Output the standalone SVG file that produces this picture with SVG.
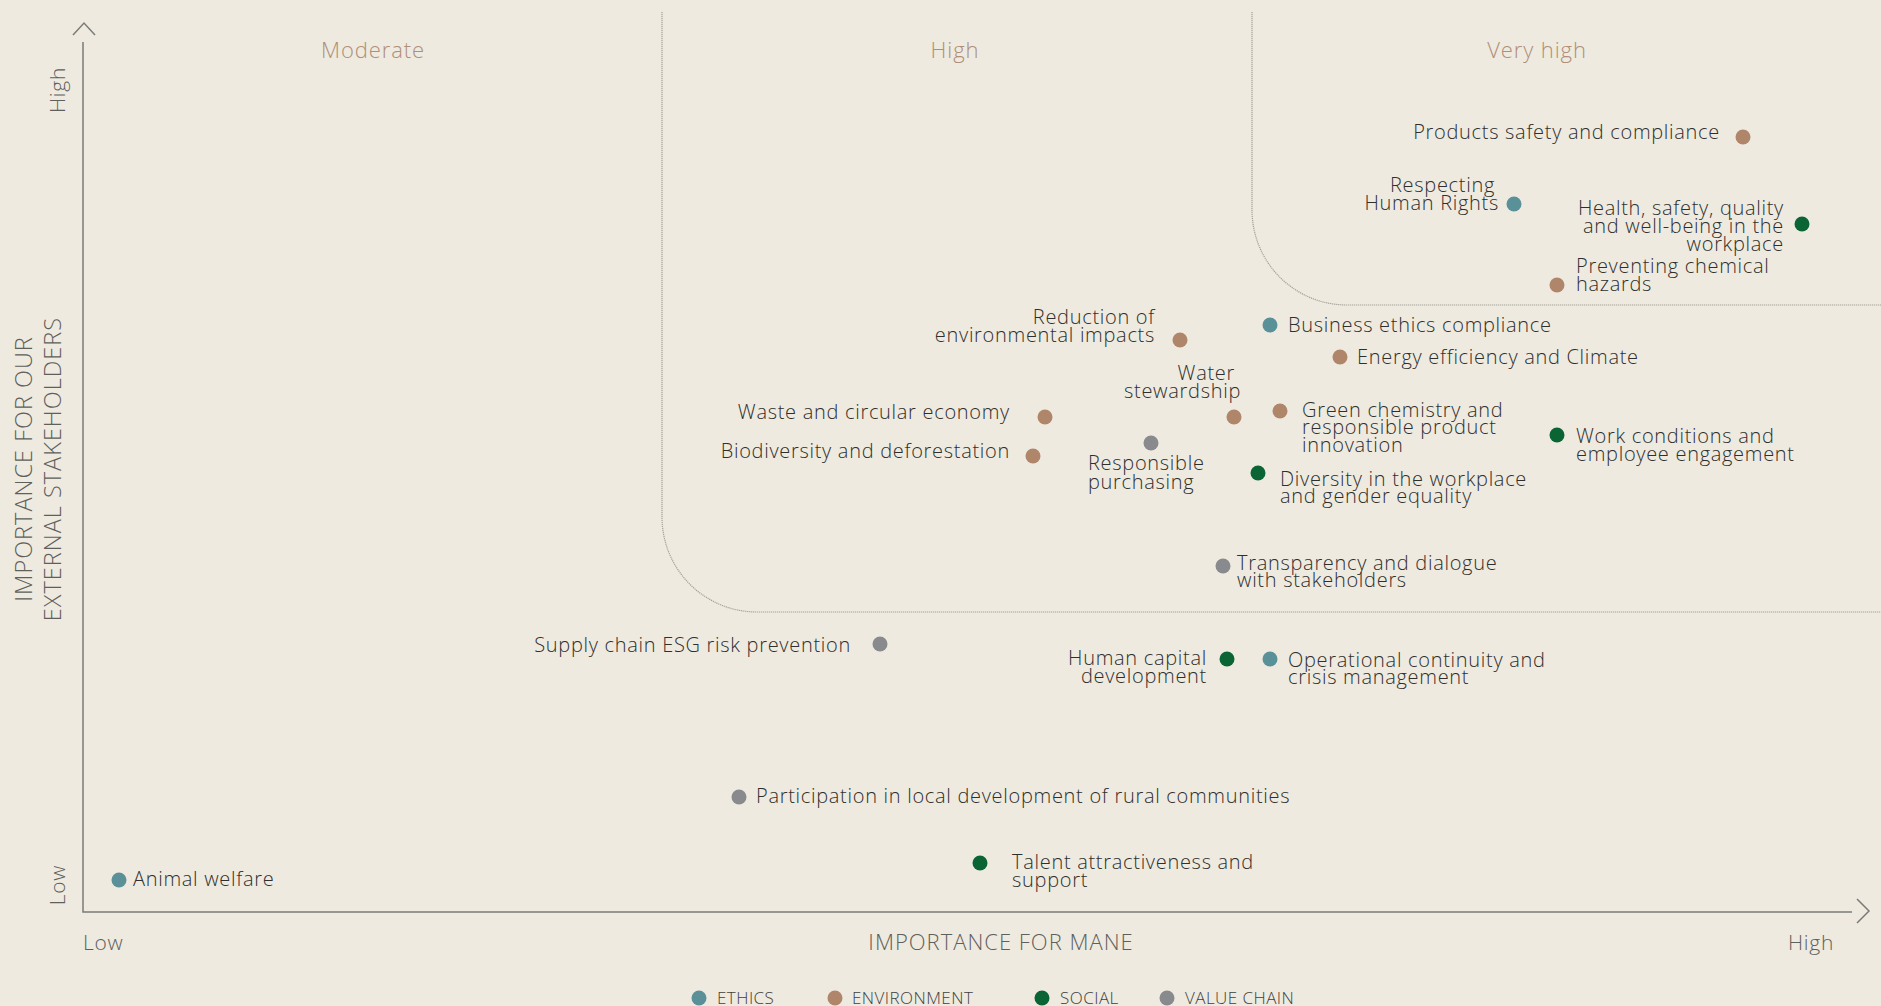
<svg xmlns="http://www.w3.org/2000/svg" width="1881" height="1006" viewBox="0 0 1881 1006">
<style>
  text { font-family: "Open Sans", "Noto Sans", "Liberation Sans", sans-serif; font-weight: 300; }
  .lbl { font-size: 20px; fill: #2f2f2d; letter-spacing: 0.7px; }
  .end { text-anchor: end; }
  .zone { font-size: 22px; fill: #b08e78; text-anchor: middle; letter-spacing: 0.9px; }
  .ax { font-size: 21px; fill: #5f5f5c; letter-spacing: 0.7px; }
  .axt { font-size: 22px; fill: #5f5f5c; letter-spacing: 1px; }
  .ayt { font-size: 23.5px; fill: #5f5f5c; letter-spacing: 1px; text-anchor: middle; }
  .leg { font-size: 17px; fill: #3f3f3d; letter-spacing: 0.45px; }
  .eth { fill: #5a9199; }
  .env { fill: #b0866b; }
  .soc { fill: #0a6434; }
  .val { fill: #898a8e; }
  .bound { fill: none; stroke: #a3a09a; stroke-width: 1.2; stroke-dasharray: 1.2 0.8; }
  .axis { fill: none; stroke: #7b7b77; stroke-width: 1.5; }
</style>
<rect width="1881" height="1006" fill="#eeeae0"/>

<g id="zones">
  <path class="bound" d="M662,12 V517 A95,95 0 0 0 757,612 H1881"/>
  <path class="bound" d="M1252,12 V210 A95,95 0 0 0 1347,305 H1881"/>
  <text class="zone" x="373" y="58">Moderate</text>
  <text class="zone" x="955" y="58">High</text>
  <text class="zone" x="1537" y="58">Very high</text>
</g>

<g id="axes">
  <path class="axis" d="M83,42 V912 H1852"/>
  <path class="axis" d="M73,35 L84,23 L95,35"/>
  <path class="axis" d="M1857,899 L1869,911 L1857,923"/>
  <text class="ax" x="83" y="950">Low</text>
  <text class="ax" x="1834" y="950" text-anchor="end">High</text>
  <text class="axt" x="1001" y="950" text-anchor="middle">IMPORTANCE FOR MANE</text>
  <text class="ax" transform="translate(65,90) rotate(-90)" text-anchor="middle">High</text>
  <text class="ax" transform="translate(65,885) rotate(-90)" text-anchor="middle">Low</text>
  <text class="ayt" transform="translate(46,469) rotate(-90)"><tspan x="0" y="-14">IMPORTANCE FOR OUR</tspan><tspan x="0" y="15">EXTERNAL STAKEHOLDERS</tspan></text>
</g>

<g id="connectors"></g>

<g id="n-products-safety">
  <circle class="env" cx="1743" cy="137" r="7.5"/>
  <text class="lbl end" x="1720" y="139">Products safety and compliance</text>
</g>
<g id="n-human-rights">
  <circle class="eth" cx="1514" cy="204" r="7.5"/>
  <text class="lbl end"><tspan x="1495" y="192">Respecting</tspan><tspan x="1499" y="210">Human Rights</tspan></text>
</g>
<g id="n-health-safety">
  <circle class="soc" cx="1802" cy="224" r="7.5"/>
  <text class="lbl end"><tspan x="1784" y="215">Health, safety, quality</tspan><tspan x="1784" y="233">and well-being in the</tspan><tspan x="1784" y="251">workplace</tspan></text>
</g>
<g id="n-chemical-hazards">
  <circle class="env" cx="1557" cy="285" r="7.5"/>
  <text class="lbl"><tspan x="1576" y="273">Preventing chemical</tspan><tspan x="1576" y="291">hazards</tspan></text>
</g>
<g id="n-business-ethics">
  <circle class="eth" cx="1270" cy="325" r="7.5"/>
  <text class="lbl" x="1288" y="332">Business ethics compliance</text>
</g>
<g id="n-energy-climate">
  <circle class="env" cx="1340" cy="357" r="7.5"/>
  <text class="lbl" x="1357" y="364">Energy efficiency and Climate</text>
</g>
<g id="n-env-impacts">
  <circle class="env" cx="1180" cy="340" r="7.5"/>
  <text class="lbl end"><tspan x="1155" y="324">Reduction of</tspan><tspan x="1155" y="342">environmental impacts</tspan></text>
</g>
<g id="n-water">
  <circle class="env" cx="1234" cy="417" r="7.5"/>
  <text class="lbl end"><tspan x="1235" y="380">Water</tspan><tspan x="1241" y="398">stewardship</tspan></text>
</g>
<g id="n-green-chemistry">
  <circle class="env" cx="1280" cy="411" r="7.5"/>
  <text class="lbl"><tspan x="1302" y="417">Green chemistry and</tspan><tspan x="1302" y="434">responsible product</tspan><tspan x="1302" y="452">innovation</tspan></text>
</g>
<g id="n-work-conditions">
  <circle class="soc" cx="1557" cy="435" r="7.5"/>
  <text class="lbl"><tspan x="1576" y="443">Work conditions and</tspan><tspan x="1576" y="461">employee engagement</tspan></text>
</g>
<g id="n-waste">
  <circle class="env" cx="1045" cy="417" r="7.5"/>
  <text class="lbl end" x="1010" y="419">Waste and circular economy</text>
</g>
<g id="n-biodiversity">
  <circle class="env" cx="1033" cy="456" r="7.5"/>
  <text class="lbl end" x="1010" y="458">Biodiversity and deforestation</text>
</g>
<g id="n-responsible-purchasing">
  <circle class="val" cx="1151" cy="443" r="7.5"/>
  <text class="lbl"><tspan x="1088" y="470">Responsible</tspan><tspan x="1088" y="489">purchasing</tspan></text>
</g>
<g id="n-diversity">
  <circle class="soc" cx="1258" cy="473" r="7.5"/>
  <text class="lbl"><tspan x="1280" y="486">Diversity in the workplace</tspan><tspan x="1280" y="503">and gender equality</tspan></text>
</g>
<g id="n-transparency">
  <circle class="val" cx="1223" cy="566" r="7.5"/>
  <text class="lbl"><tspan x="1237" y="570">Transparency and dialogue</tspan><tspan x="1237" y="587">with stakeholders</tspan></text>
</g>
<g id="n-supply-chain">
  <circle class="val" cx="880" cy="644" r="7.5"/>
  <text class="lbl end" x="851" y="652">Supply chain ESG risk prevention</text>
</g>
<g id="n-human-capital">
  <circle class="soc" cx="1227" cy="659" r="7.5"/>
  <text class="lbl end"><tspan x="1207" y="665">Human capital</tspan><tspan x="1207" y="683">development</tspan></text>
</g>
<g id="n-operational-continuity">
  <circle class="eth" cx="1270" cy="659" r="7.5"/>
  <text class="lbl"><tspan x="1288" y="667">Operational continuity and</tspan><tspan x="1288" y="684">crisis management</tspan></text>
</g>
<g id="n-rural-communities">
  <circle class="val" cx="739" cy="797" r="7.5"/>
  <text class="lbl" x="756" y="803">Participation in local development of rural communities</text>
</g>
<g id="n-talent">
  <circle class="soc" cx="980" cy="863" r="7.5"/>
  <text class="lbl"><tspan x="1012" y="869">Talent attractiveness and</tspan><tspan x="1012" y="887">support</tspan></text>
</g>
<g id="n-animal-welfare">
  <circle class="eth" cx="119" cy="880" r="7.5"/>
  <text class="lbl" x="133" y="886">Animal welfare</text>
</g>

<g id="legend">
  <circle class="eth" cx="699" cy="998" r="7.5"/>
  <text class="leg" x="717" y="1004">ETHICS</text>
  <circle class="env" cx="835" cy="998" r="7.5"/>
  <text class="leg" x="852" y="1004">ENVIRONMENT</text>
  <circle class="soc" cx="1042" cy="998" r="7.5"/>
  <text class="leg" x="1060" y="1004">SOCIAL</text>
  <circle class="val" cx="1167" cy="998" r="7.5"/>
  <text class="leg" x="1185" y="1004">VALUE CHAIN</text>
</g>
</svg>
